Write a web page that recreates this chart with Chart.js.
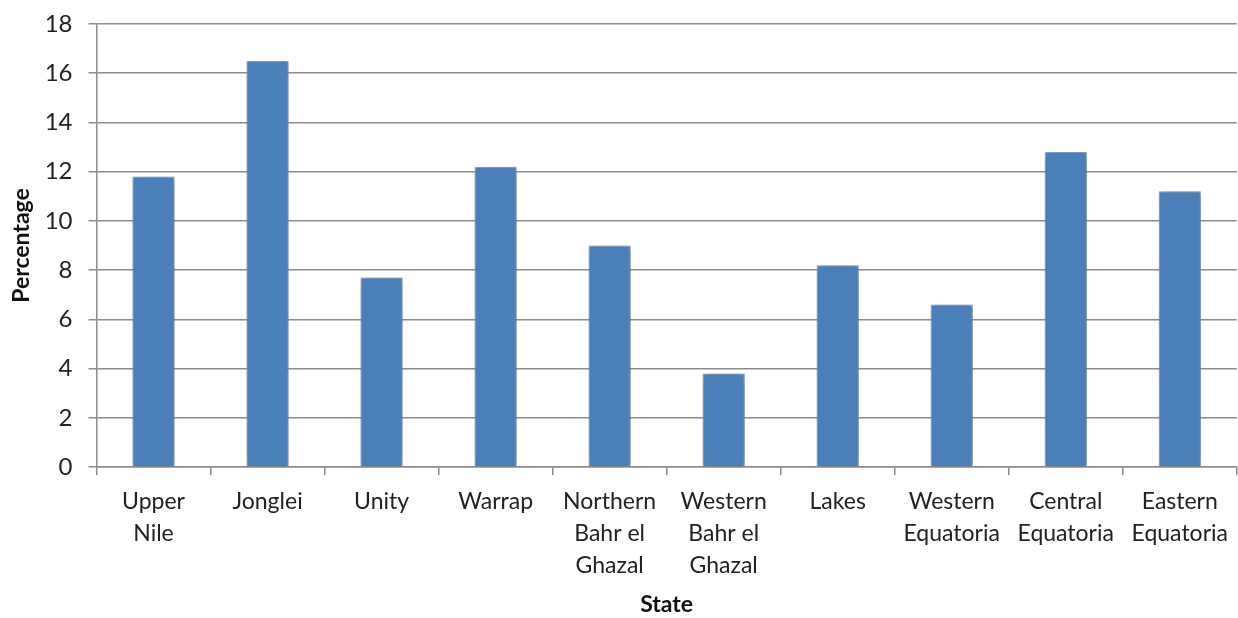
<!DOCTYPE html>
<html>
<head>
<meta charset="utf-8">
<script src="https://cdn.jsdelivr.net/npm/chart.js@4"></script>
<style>
  body { margin: 0; background: #fff; }
  #wrap { width: 1238px; height: 618px; }
</style>
</head>
<body>
<div id="wrap"><canvas id="myChart" width="1238" height="618"></canvas></div>
<script>
// data
var states = [
  ['Upper', 'Nile'], 'Jonglei', 'Unity', 'Warrap',
  ['Northern', 'Bahr el', 'Ghazal'], ['Western', 'Bahr el', 'Ghazal'],
  'Lakes', ['Western', 'Equatoria'], ['Central', 'Equatoria'], ['Eastern', 'Equatoria']
];
var percentage = [11.8, 16.5, 7.7, 12.2, 9.0, 3.8, 8.2, 6.6, 12.8, 11.2];
var yTicks = [0, 2, 4, 6, 8, 10, 12, 14, 16, 18];

var gridColor = '#8c8c8c';
var fontFam = 'Lato, "Open Sans", sans-serif';

// soft shadow behind the bars
var barShadow = {
  id: 'barShadow',
  beforeDatasetsDraw: function(chart) {
    var ctx = chart.ctx;
    ctx.save();
    ctx.shadowColor = 'rgba(0,0,0,0.45)';
    ctx.shadowBlur = 8;
    ctx.shadowOffsetX = 1;
    ctx.shadowOffsetY = 1;
  },
  afterDatasetsDraw: function(chart) {
    chart.ctx.restore();
  }
};

var ctx = document.getElementById('myChart').getContext('2d');
var chart = new Chart(ctx, {
  type: 'bar',
  data: {
    labels: states,
    datasets: [{
      label: 'Percentage',
      data: percentage,
      backgroundColor: '#4a7fba',
      borderColor: '#8fb3de',
      borderWidth: 1,
      barPercentage: 0.37,
      categoryPercentage: 1
    }]
  },
  options: {
    responsive: false,
    animation: false,
    layout: { padding: { top: 24, right: 1, left: 0, bottom: 0 } },
    plugins: {
      legend: { display: false },
      tooltip: { enabled: false }
    },
    scales: {
      y: {
        min: 0,
        max: 18,
        afterBuildTicks: function(axis) {
          axis.ticks = yTicks.map(function(v) { return { value: v }; });
        },
        afterFit: function(axis) {
          axis.width = 96.5;
          axis.paddingTop = 0;
        },
        ticks: {
          color: '#222',
          padding: 16,
          font: { family: fontFam, size: 24 }
        },
        grid: { color: gridColor, lineWidth: 1.5, tickLength: 8 },
        border: { color: gridColor, width: 1.5 },
        title: {
          display: true,
          text: 'Percentage',
          color: '#111',
          padding: { top: 8, bottom: 6 },
          font: { family: fontFam, size: 23, weight: 'bold' }
        }
      },
      x: {
        afterFit: function(axis) { axis.height = 151; },
        ticks: {
          color: '#222',
          padding: 10,
          maxRotation: 0,
          autoSkip: false,
          font: { family: fontFam, size: 23, lineHeight: 1.4 }
        },
        grid: { drawOnChartArea: false, color: gridColor, lineWidth: 1.5, tickLength: 8 },
        border: { color: gridColor, width: 1.5 },
        title: {
          display: true,
          text: 'State',
          color: '#111',
          padding: { top: 0, bottom: 0 },
          font: { family: fontFam, size: 23, weight: 'bold' }
        }
      }
    }
  },
  plugins: [barShadow]
});
</script>
</body>
</html>
